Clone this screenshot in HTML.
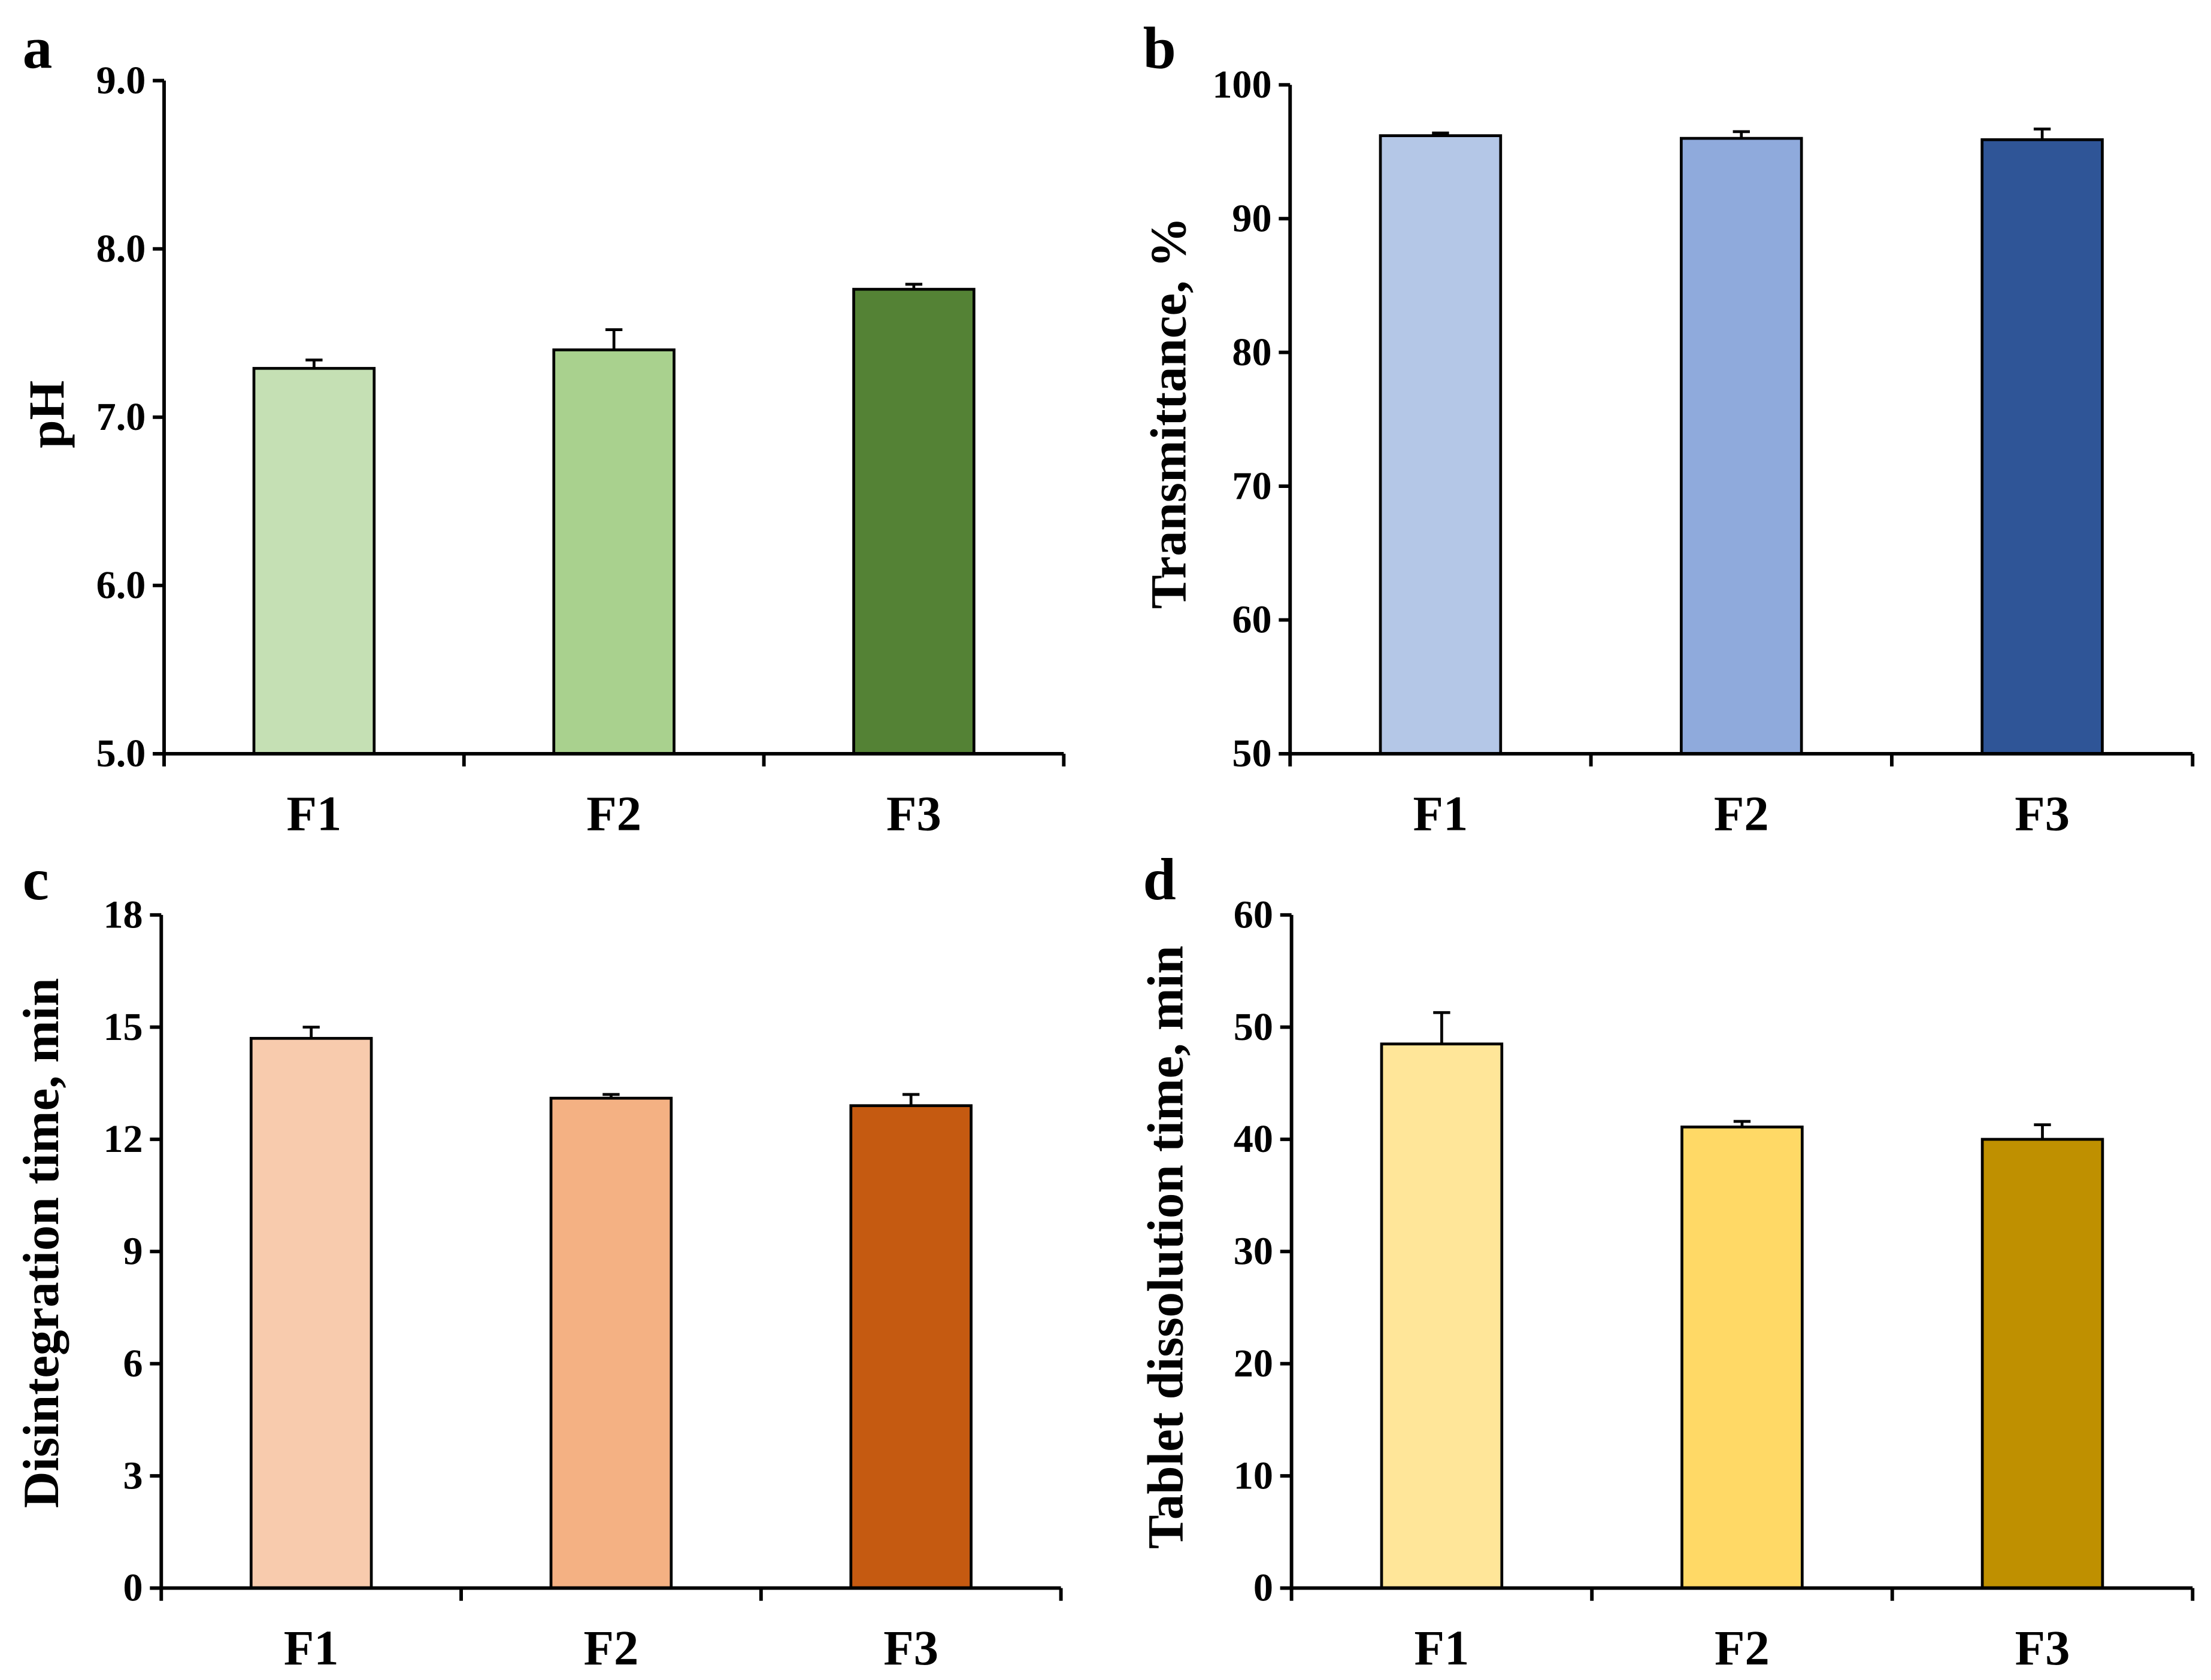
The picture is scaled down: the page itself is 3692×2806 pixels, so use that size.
<!DOCTYPE html>
<html><head><meta charset="utf-8"><style>
html,body{margin:0;padding:0;background:#fff;}
svg{display:block;}
text{font-family:"Liberation Serif",serif;font-weight:bold;fill:#000;}
</style></head><body>
<svg id="fig" width="3692" height="2806" viewBox="0 0 1563 1188" preserveAspectRatio="none" xmlns="http://www.w3.org/2000/svg"></svg>
<script>
const categories = ["F1","F2","F3"];
const phValues = [7.29, 7.40, 7.76];
const phErrors = [0.05, 0.12, 0.03];
const transValues = [96.2, 96.0, 95.9];
const transErrors = [0.2, 0.5, 0.8];
const disValues = [14.7, 13.1, 12.9];
const disErrors = [0.3, 0.1, 0.3];
const tabValues = [48.5, 41.1, 40.0];
const tabErrors = [2.8, 0.5, 1.3];
const phTicks = ["5.0","6.0","7.0","8.0","9.0"];
const transTicks = ["50","60","70","80","90","100"];
const disTicks = ["0","3","6","9","12","15","18"];
const tabTicks = ["0","10","20","30","40","50","60"];

const NS = "http://www.w3.org/2000/svg";
const svg = document.getElementById('fig');
function mk(tag, attrs, parent){
  const e = document.createElementNS(NS, tag);
  for (const k in attrs) e.setAttribute(k, attrs[k]);
  (parent||svg).appendChild(e);
  return e;
}
const panels = [
  {id:"a", title:"pH", vals:phValues, errs:phErrors, ticks:phTicks, colors:["#c5e0b4","#a9d18e","#548235"], x0:116, x1:752, yTop:57, yBot:533, letterX:16, letterY:48, titleX:33, titleY:293},
  {id:"b", title:"Transmittance, %", vals:transValues, errs:transErrors, ticks:transTicks, colors:["#b4c7e7","#8faadc","#2f5597"], x0:912, x1:1550, yTop:60, yBot:533, letterX:808, letterY:48, titleX:826, titleY:292},
  {id:"c", title:"Disintegration time, min", vals:disValues, errs:disErrors, ticks:disTicks, colors:["#f8cbad","#f4b183","#c55a11"], x0:114, x1:750, yTop:647, yBot:1123, letterX:16, letterY:636, titleX:29, titleY:879},
  {id:"d", title:"Tablet dissolution time, min", vals:tabValues, errs:tabErrors, ticks:tabTicks, colors:["#ffe699","#ffd966","#bf9000"], x0:913, x1:1550, yTop:647, yBot:1123, letterX:808, letterY:636, titleX:824, titleY:882}
];
panels.forEach(p=>{
  const g = mk('g',{});
  
  
  const vmin = parseFloat(p.ticks[0]), vmax = parseFloat(p.ticks[p.ticks.length-1]);
  const yS = v => p.yBot - (v - vmin)/(vmax - vmin)*(p.yBot - p.yTop);
  const band = (p.x1 - p.x0)/categories.length;
  const xC = i => p.x0 + band*(i+0.5);
  const bw = 85;
  p.vals.forEach((v,i)=>{
    const r = mk('rect',{x:xC(i)-bw/2, y:yS(v), width:bw, height:p.yBot-yS(v), fill:p.colors[i], stroke:"#000", "stroke-width":2}, g);
    
    
    const yt = yS(v + p.errs[i]);
    const e = mk('path',{d:`M${xC(i)} ${yS(v)} V${yt} M${xC(i)-6} ${yt} H${xC(i)+6}`, stroke:"#000", "stroke-width":2, fill:"none"}, g);
    
    
  });
  const ya = mk('line',{x1:p.x0, y1:p.yTop, x2:p.x0, y2:p.yBot+1, stroke:"#000", "stroke-width":2.5}, g);
  
  
  const xa = mk('line',{x1:p.x0-8, y1:p.yBot, x2:p.x1, y2:p.yBot, stroke:"#000", "stroke-width":2.5}, g);
  
  
  p.ticks.forEach(t=>{
    const y = yS(parseFloat(t));
    mk('line',{x1:p.x0-8, y1:y, x2:p.x0, y2:y, stroke:"#000", "stroke-width":2.5}, g);
    const tl = mk('text',{x:p.x0-13, y:y+9, "text-anchor":"end", "font-size":28}, g);
    tl.textContent = t;
    
    
  });
  for (let i=0;i<=categories.length;i++){
    const x = p.x0 + band*i;
    mk('line',{x1:x, y1:p.yBot, x2:x, y2:p.yBot+9, stroke:"#000", "stroke-width":2.5}, g);
  }
  categories.forEach((c,i)=>{
    const cl = mk('text',{x:xC(i), y:p.yBot+54, "text-anchor":"middle", "font-size":35}, g);
    cl.textContent = c;
    
    
  });
  const tt = mk('text',{x:0, y:0, "text-anchor":"middle", "font-size":36, transform:`translate(${p.titleX+12},${p.titleY}) rotate(-90)`}, g);
  tt.textContent = p.title;
  
  
  const lt = mk('text',{x:p.letterX, y:p.letterY, "font-size":42}, g);
  lt.textContent = p.id;
  
  
});
</script>
</body></html>
